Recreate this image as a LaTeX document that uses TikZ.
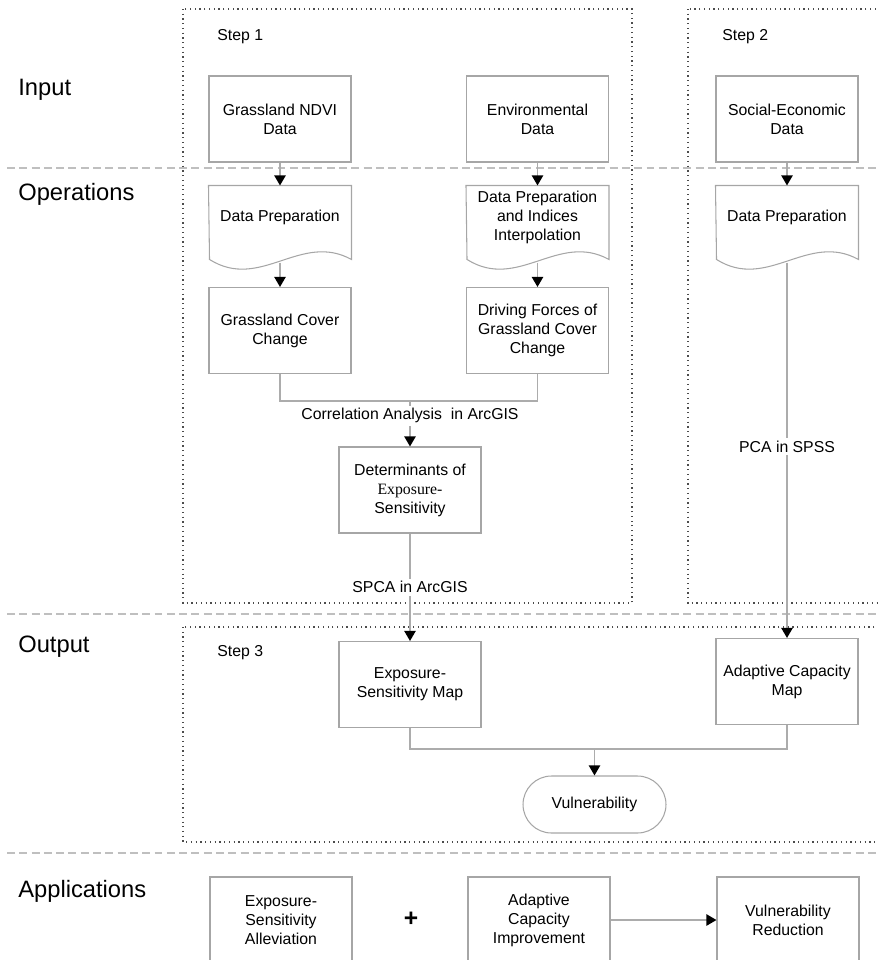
\documentclass[tikz,border=0pt]{standalone}
\usepackage{fontspec}
\setmainfont{Liberation Sans}
\newfontfamily\timesfont{Liberation Serif}
\usetikzlibrary{arrows.meta,calc}

\begin{document}
\begin{tikzpicture}[
    x=0.02cm, y=-0.02cm,
    box/.style={draw=gray!70, line width=0.6pt, minimum width=2.84cm, minimum height=1.72cm, inner sep=0pt, align=center, font=\fontsize{9}{10.8}\selectfont},
    docbox/.style={box, draw=none, minimum height=1.24cm},
    endbox/.style={box, minimum width=2.86cm, minimum height=1.14cm, rounded corners=0.57cm},
    link/.style={draw=gray!65, line width=0.9pt},
    arrow/.style={link, -{Triangle[width=6.5pt,length=5.8pt,color=black]}},
    lbl/.style={font=\fontsize{9}{10.8}\selectfont, fill=white, inner sep=1.5pt},
    stage/.style={font=\fontsize{13.5}{16}\selectfont, anchor=west, inner sep=0pt},
    steplbl/.style={font=\fontsize{9}{10.8}\selectfont, anchor=west, inner sep=0pt},
    frame/.style={draw=gray!60!black, dotted, line width=0.7pt},
    divider/.style={draw=gray!50, dash pattern=on 4.5pt off 2.5pt, line width=0.8pt}
]

\useasboundingbox (0,0) rectangle (877,960);

% Frames and dividers
\draw[frame] (183,9) rectangle (632,603);
\draw[frame] (688,9) rectangle (890,603);
\draw[frame] (183,627) rectangle (890,842);
\foreach \y in {168,614,853}
  \draw[divider] (7,\y) -- (877,\y);

% Stages
\node[stage] (input) at (18,90) {Input};
\node[stage] (operations) at (18,194) {Operations};
\node[stage] (output) at (18,647) {Output};
\node[stage] (applications) at (18,891) {Applications};

\node[steplbl] (step1) at (217,37) {Step 1};
\node[steplbl] (step2) at (722,37) {Step 2};
\node[steplbl] (step3) at (217,653) {Step 3};

% Boxes
\node[box] (ndvi) at (280,119) {Grassland NDVI\\Data};
\node[box] (env) at (537.5,119) {Environmental\\Data};
\node[box] (soc) at (787,119) {Social-Economic\\Data};

\node[docbox] (prepNDVI) at (280,217) {Data Preparation};
\node[docbox] (prepEnv) at (537.5,217) {Data Preparation\\and Indices\\Interpolation};
\node[docbox] (prepSoc) at (787,217) {Data Preparation};

\foreach \n in {prepNDVI,prepEnv,prepSoc}{
  \draw[draw=gray!70, line width=0.6pt] (\n.north west) -- (\n.north east) -- ++(0,74)
    .. controls +(-51,-28) and +(51,32) .. ++(-142,0) -- cycle;
  \coordinate (\n-w) at ($(\n.south)+(0,14)$);
}

\node[box] (coverChange) at (280,330.5) {Grassland Cover\\Change};
\node[box] (drivers) at (537.5,330.5) {Driving Forces of\\Grassland Cover\\Change};
\node[box] (determinants) at (410,490) {Determinants of\\{\timesfont Exposure-}\\Sensitivity};

\node[box] (esMap) at (410,684.5) {Exposure-\\Sensitivity Map};
\node[box] (acMap) at (787,681.5) {Adaptive Capacity\\Map};
\node[endbox] (vuln) at (594.5,804.5) {Vulnerability};

\node[box] (esAlleviation) at (281,920) {Exposure-\\Sensitivity\\Alleviation};
\node[font=\fontsize{14}{16}\selectfont\bfseries] (plus) at (411,919) {+};
\node[box] (acImprovement) at (539,920) {Adaptive\\Capacity\\Improvement};
\node[box] (vulnReduction) at (788,920) {Vulnerability\\Reduction};

% Connectors
\draw[arrow] (ndvi.south) -- (prepNDVI.north);
\draw[arrow] (env.south) -- (prepEnv.north);
\draw[arrow] (soc.south) -- (prepSoc.north);
\draw[arrow] (prepNDVI-w) -- (coverChange.north);
\draw[arrow] (prepEnv-w) -- (drivers.north);

\coordinate (corr) at (410,401);
\draw[link] (coverChange.south) |- (corr) -| (drivers.south);
\draw[arrow] (corr) -- node[lbl, pos=0.32] {Correlation Analysis\ \ in ArcGIS} (determinants.north);
\draw[arrow] (determinants.south) -- node[lbl] {SPCA in ArcGIS} (esMap.north);
\draw[arrow] (prepSoc-w) -- node[lbl, pos=0.49] {PCA in SPSS} (acMap.north);

\coordinate (merge) at (594.5,749);
\draw[link] (esMap.south) |- (merge) -| (acMap.south);
\draw[arrow] (merge) -- (vuln.north);

\draw[arrow] (acImprovement.east) -- (vulnReduction.west);

\end{tikzpicture}
\end{document}
